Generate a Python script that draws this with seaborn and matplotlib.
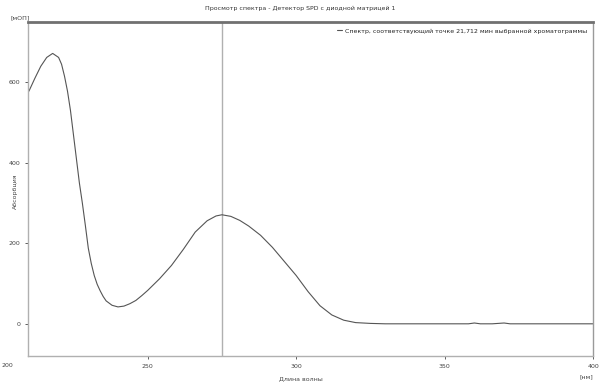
import numpy as np
import pandas as pd
from matplotlib import pyplot as plt
import seaborn as sns

sns.set_style("ticks")
plt.rcParams["font.family"] = ["DejaVu Sans"]
plt.rcParams["axes.unicode_minus"] = False

# данные спектра
wavelength = [210, 212, 214, 216, 218, 220, 221, 222, 223, 224, 225, 226, 227, 228, 229,
              230, 231, 232, 233, 234, 235, 236, 238, 240, 242, 244, 246, 248, 250, 254,
              258, 262, 266, 270, 273, 275, 278, 281, 284, 288, 292, 296, 300, 304, 308,
              312, 316, 320, 325, 330, 340, 350, 358, 360, 362, 366, 370, 372, 380, 390, 400]
absorbance = [578, 610, 640, 662, 672, 662, 645, 615, 578, 530, 470, 410, 350, 300, 245,
              188, 150, 120, 98, 82, 68, 57, 46, 42, 44, 50, 58, 70, 83, 112,
              145, 185, 228, 256, 268, 271, 267, 257, 243, 220, 190, 155, 120, 80, 45,
              22, 9, 3, 1, 0, 0, 0, 0, 2, 0, 0, 2, 0, 0, 0, 0]
marker_nm = 275
xticks = [250, 300, 350, 400]
yticks = [0, 200, 400, 600]

title = "Просмотр спектра - Детектор SPD с диодной матрицей 1"
legend_label = "Спектр, соответствующий точке 21,712 мин выбранной хроматограммы"

df = pd.DataFrame({"nm": wavelength, "abs": absorbance})

fig = plt.figure(figsize=(6.01, 3.83), dpi=100)
ax = fig.add_axes([0.0466, 0.0705, 0.9404, 0.872])

ax.axvline(marker_nm, color="#b0b0b0", lw=1.0, zorder=1)
sns.lineplot(data=df, x="nm", y="abs", ax=ax, color="#555555", lw=0.8, label=legend_label, zorder=2)

ax.set_xlim(209.7, 400)
ax.set_ylim(-80, 750)
ax.set_xticks(xticks)
ax.set_yticks(yticks)
ax.tick_params(labelsize=4.5, length=2, width=0.6, colors="#444444")
ax.set_xlabel("")
ax.set_ylabel("")

for side in ["left", "bottom"]:
    ax.spines[side].set_color("#b0b0b0")
    ax.spines[side].set_linewidth(1.0)
ax.spines["right"].set_visible(True)
ax.spines["right"].set_color("#9a9a9a")
ax.spines["right"].set_linewidth(1.0)
ax.spines["top"].set_visible(True)
ax.spines["top"].set_color("#707070")
ax.spines["top"].set_linewidth(2.0)

leg = ax.legend(loc="upper right", frameon=False, fontsize=4.5, handlelength=0.8,
                handletextpad=0.4, borderaxespad=0.6)

fig.text(0.5, 0.978, title, ha="center", va="center", fontsize=4.5, color="#333333")
fig.text(0.033, 0.953, "[мОП]", ha="center", va="center", fontsize=4.5, color="#444444")
fig.text(0.025, 0.50, "Абсорбция", ha="center", va="center", rotation=90, fontsize=4.5, color="#444444")
fig.text(0.5, 0.012, "Длина волны", ha="center", va="center", fontsize=4.5, color="#444444")
fig.text(0.975, 0.015, "[нм]", ha="center", va="center", fontsize=4.5, color="#444444")
fig.text(0.003, 0.045, "200", ha="left", va="center", fontsize=4.5, color="#444444")

fig.savefig("out.png", dpi=100, facecolor="white")
